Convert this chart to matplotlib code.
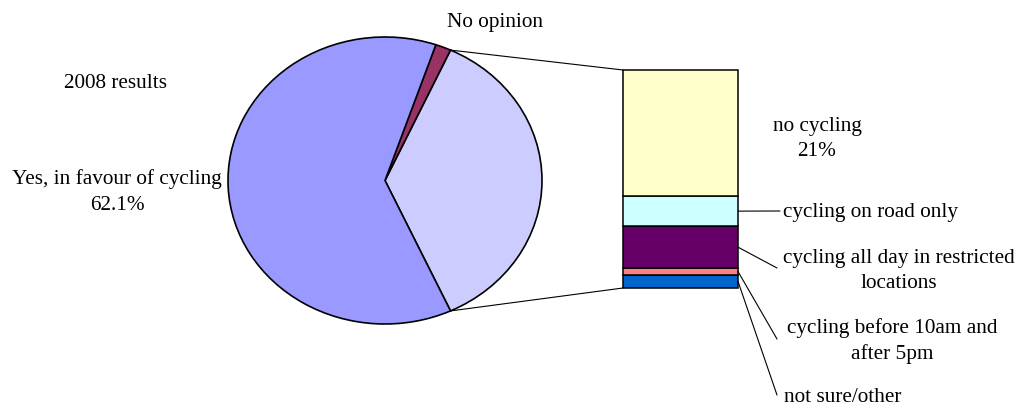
import numpy as np
import matplotlib
matplotlib.use('Agg')
import matplotlib.pyplot as plt
from matplotlib.patches import ConnectionPatch

plt.rc('font', family='Liberation Serif', size=15.3)

# main pie: share of respondents
pie_labels = ['in favour of\nchange', 'No opinion', 'Yes, in favour of cycling']
pie_values = [36.3, 1.6, 62.1]
pie_colors = ['#CCCCFF', '#993366', '#9999FF']

# breakdown of the "in favour of change" slice, bottom to top
bar_labels = ['not sure/other', 'cycling before 10am and\nafter 5pm',
              'cycling all day in restricted\nlocations', 'cycling on road only', 'no cycling']
bar_values = [2.2, 1.1, 7.0, 5.0, 21.0]
bar_colors = ['#0066CC', '#FF8080', '#660066', '#CCFFFF', '#FFFFCC']

W, H = 1019, 407
fig = plt.figure(figsize=(W/100, H/100), dpi=100)

# overlay in pixel coordinates for text placement
ax_txt = fig.add_axes([0, 0, 1, 1])
ax_txt.set_xlim(0, W)
ax_txt.set_ylim(H, 0)
ax_txt.axis('off')

def frac(x0, y0, x1, y1):
    return [x0/W, 1 - y1/H, (x1-x0)/W, (y1-y0)/H]

# pie drawn as an ellipse
ax_pie = fig.add_axes(frac(228, 37, 542, 324))
start = -pie_values[0]*3.6/2
wedges, _ = ax_pie.pie(pie_values, colors=pie_colors, startangle=start, counterclock=True,
                       wedgeprops=dict(edgecolor='black', linewidth=1.2))
for w in wedges:
    w.set_clip_on(False)
ax_pie.set_aspect('auto')
ax_pie.set_xlim(-1, 1)
ax_pie.set_ylim(-1, 1)
ax_pie.axis('off')

# stacked bar
ax_bar = fig.add_axes(frac(623, 70, 738, 288))
bottoms = np.concatenate([[0], np.cumsum(bar_values)[:-1]])
rects = ax_bar.bar(0, bar_values, bottom=bottoms, width=1, color=bar_colors,
                   edgecolor='black', linewidth=1.1)
for r in rects:
    r.set_clip_on(False)
total = sum(bar_values)
ax_bar.set_xlim(-0.5, 0.5)
ax_bar.set_ylim(0, total)
ax_bar.axis('off')

# lines joining the slice to the bar
t_top = np.radians(start + pie_values[0]*3.6)
t_bot = np.radians(start)
for t, yb in [(t_top, total), (t_bot, 0)]:
    con = ConnectionPatch(xyA=(np.cos(t), np.sin(t)), coordsA=ax_pie.transData,
                          xyB=(-0.5, yb), coordsB=ax_bar.transData,
                          color='black', linewidth=0.8)
    fig.add_artist(con)

# pie labels
ax_txt.text(116, 83, '2008 results', ha='center', va='center')
ax_txt.text(495, 23, pie_labels[1], ha='center', va='center')
ax_txt.text(117, 192, f'{pie_labels[2]}\n{pie_values[2]}%', ha='center', va='center', linespacing=1.45)
ax_txt.text(472, 160, f'{pie_labels[0]}\n{pie_values[0]}%', ha='center', va='center', linespacing=1.45)

# bar labels
ax_txt.text(817, 139, f'{bar_labels[4]}\n{bar_values[4]:g}%', ha='center', va='center', linespacing=1.45)

leader_ends = [(777, 395), (777, 339), (777, 268), (780, 211)]
label_pos = [(784, 397, 'left'), (892, 341, 'center'), (899, 271, 'center'), (783, 213, 'left')]
for i in range(4):
    mid = bottoms[i] + bar_values[i]/2
    con = ConnectionPatch(xyA=(0.5, mid), coordsA=ax_bar.transData,
                          xyB=leader_ends[i], coordsB=ax_txt.transData,
                          color='black', linewidth=0.8)
    fig.add_artist(con)
    x, y, ha = label_pos[i]
    ax_txt.text(x, y, bar_labels[i], ha=ha, va='center', linespacing=1.45)

fig.savefig('out.png', dpi=100)
